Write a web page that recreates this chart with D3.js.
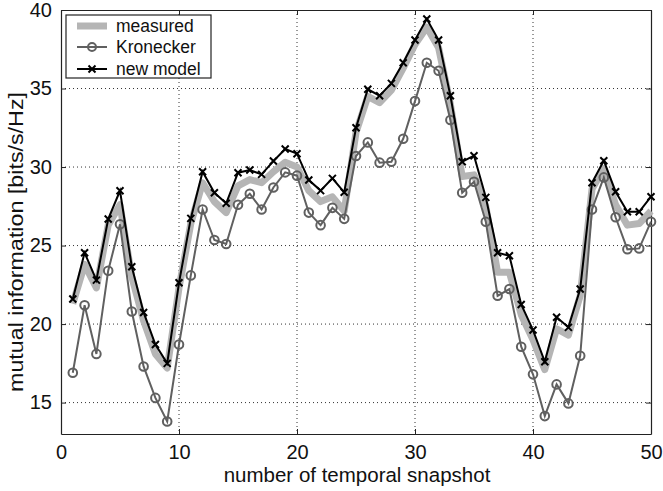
<!DOCTYPE html>
<html>
<head>
<meta charset="utf-8">
<script src="https://cdn.jsdelivr.net/npm/d3@7"></script>
<style>
  body { margin: 0; background: #fff; }
  svg text { font-family: "Liberation Sans", Arial, sans-serif; fill: #111; }
</style>
</head>
<body>
<svg id="chart"></svg>
<script>
// snapshots 1..50
var snapshots = d3.range(1, 51);

var measured = [21.3, 23.8, 22.3, 26.3, 27.6, 23.0, 20.2, 18.1, 17.2, 22.3,
  26.4, 29.0, 27.8, 27.1, 28.8, 29.2, 29.0, 29.7, 30.3, 30.0,
  28.5, 27.8, 28.1, 27.2, 32.2, 34.5, 34.1, 34.9, 36.3, 37.8,
  38.9, 37.6, 34.0, 29.4, 29.5, 27.5, 23.3, 23.3, 20.6, 19.0,
  17.1, 19.7, 19.3, 21.8, 28.6, 29.9, 27.6, 26.3, 26.4, 27.2];

var kronecker = [16.9, 21.2, 18.1, 23.4, 26.35, 20.8, 17.3, 15.3, 13.8, 18.7,
  23.1, 27.3, 25.35, 25.1, 27.6, 28.3, 27.3, 28.7, 29.66, 29.45,
  27.1, 26.3, 27.4, 26.7, 30.7, 31.57, 30.28, 30.34, 31.8, 34.2,
  36.64, 36.13, 33.0, 28.36, 29.06, 26.52, 21.8, 22.23, 18.56, 16.8,
  14.14, 16.16, 14.95, 17.98, 27.3, 29.34, 26.8, 24.76, 24.82, 26.52];

var newModel = [21.6, 24.54, 22.8, 26.69, 28.49, 23.65, 20.74, 18.7, 17.5, 22.63,
  26.73, 29.7, 28.36, 27.69, 29.64, 29.81, 29.53, 30.38, 31.15, 30.85,
  29.17, 28.5, 29.28, 28.39, 32.5, 34.95, 34.54, 35.33, 36.64, 38.09,
  39.43, 38.09, 34.54, 30.34, 30.72, 28.07, 24.54, 24.35, 21.25, 19.62,
  17.6, 20.43, 19.79, 22.23, 29.0, 30.4, 28.43, 27.15, 27.15, 28.11];

var xTicks = [0, 10, 20, 30, 40, 50];
var yTicks = [15, 20, 25, 30, 35, 40];
var legendLabels = ["measured", "Kronecker", "new model"];

var W = 663, H = 491;
var margin = { top: 10, right: 12, bottom: 57, left: 61 };
var width = W - margin.left - margin.right;
var height = H - margin.top - margin.bottom;

var svg = d3.select("#chart").attr("width", W).attr("height", H);
var g = svg.append("g").attr("transform", `translate(${margin.left},${margin.top})`);

var x = d3.scaleLinear().domain([0, 50]).range([0, width]);
var y = d3.scaleLinear().domain([13, 40]).range([height, 0]);

// grid
g.append("g").selectAll("line")
  .data(xTicks.slice(1, -1))
  .enter().append("line")
  .attr("x1", d => x(d)).attr("x2", d => x(d))
  .attr("y1", 0).attr("y2", height)
  .attr("stroke", "#333").attr("stroke-width", 1).attr("stroke-dasharray", "1,3");
g.append("g").selectAll("line")
  .data(yTicks.slice(0, -1))
  .enter().append("line")
  .attr("x1", 0).attr("x2", width)
  .attr("y1", d => y(d)).attr("y2", d => y(d))
  .attr("stroke", "#333").attr("stroke-width", 1).attr("stroke-dasharray", "1,3");

// axes, ticks inward on all four sides
var axB = g.append("g").attr("transform", `translate(0,${height})`)
  .call(d3.axisBottom(x).tickValues(xTicks).tickSizeInner(-5).tickSizeOuter(0).tickPadding(11));
var axL = g.append("g")
  .call(d3.axisLeft(y).tickValues(yTicks).tickSizeInner(-5).tickSizeOuter(0).tickPadding(9));
var axT = g.append("g")
  .call(d3.axisTop(x).tickValues(xTicks).tickSizeInner(-5).tickSizeOuter(0).tickFormat(""));
var axR = g.append("g").attr("transform", `translate(${width},0)`)
  .call(d3.axisRight(y).tickValues(yTicks).tickSizeInner(-5).tickSizeOuter(0).tickFormat(""));

[axB, axL, axT, axR].forEach(function(a) {
  a.select(".domain").attr("stroke", "#222").attr("stroke-width", 1.2);
  a.selectAll(".tick line").attr("stroke", "#222");
  a.selectAll(".tick text").style("font-size", "20px").attr("fill", "#111");
});

var line = d3.line()
  .x((d, i) => x(snapshots[i]))
  .y(d => y(d));

// measured
g.append("path").datum(measured)
  .attr("d", line).attr("fill", "none")
  .attr("stroke", "#b5b5b5").attr("stroke-width", 7)
  .attr("stroke-linejoin", "round");

// Kronecker
g.append("path").datum(kronecker)
  .attr("d", line).attr("fill", "none")
  .attr("stroke", "#606060").attr("stroke-width", 2);
g.append("g").selectAll("circle")
  .data(kronecker).enter().append("circle")
  .attr("cx", (d, i) => x(snapshots[i])).attr("cy", d => y(d))
  .attr("r", 4.3).attr("fill", "none")
  .attr("stroke", "#606060").attr("stroke-width", 2);

// new model
g.append("path").datum(newModel)
  .attr("d", line).attr("fill", "none")
  .attr("stroke", "#000").attr("stroke-width", 2);
g.append("g").selectAll("path")
  .data(newModel).enter().append("path")
  .attr("d", "M-3.5,-3.5L3.5,3.5M-3.5,3.5L3.5,-3.5")
  .attr("transform", (d, i) => `translate(${x(snapshots[i])},${y(d)})`)
  .attr("stroke", "#000").attr("stroke-width", 2);

// legend
var lg = g.append("g").attr("transform", "translate(5,5)");
lg.append("rect").attr("width", 145).attr("height", 63)
  .attr("fill", "#fff").attr("stroke", "#222").attr("stroke-width", 1.2);
var rowY = [11, 32, 54];
legendLabels.forEach(function(lab, i) {
  var row = lg.append("g").attr("transform", `translate(0,${rowY[i]})`);
  if (i === 0) {
    row.append("line").attr("x1", 11).attr("x2", 41).attr("y1", 0).attr("y2", 0)
      .attr("stroke", "#b5b5b5").attr("stroke-width", 7);
  } else if (i === 1) {
    row.append("line").attr("x1", 11).attr("x2", 41).attr("y1", 0).attr("y2", 0)
      .attr("stroke", "#606060").attr("stroke-width", 2);
    row.append("circle").attr("cx", 26).attr("cy", 0).attr("r", 4)
      .attr("fill", "none").attr("stroke", "#606060").attr("stroke-width", 2);
  } else {
    row.append("line").attr("x1", 11).attr("x2", 41).attr("y1", 0).attr("y2", 0)
      .attr("stroke", "#000").attr("stroke-width", 2);
    row.append("path").attr("d", "M-3.5,-3.5L3.5,3.5M-3.5,3.5L3.5,-3.5")
      .attr("transform", "translate(26,0)")
      .attr("stroke", "#000").attr("stroke-width", 2);
  }
  row.append("text").attr("x", 50).attr("y", 0).attr("dy", "0.35em")
    .style("font-size", "17.5px").text(lab);
});

// axis labels
svg.append("text")
  .attr("x", margin.left + width / 2 + 1).attr("y", 482)
  .attr("text-anchor", "middle").style("font-size", "20.5px")
  .text("number of temporal snapshot");
svg.append("text")
  .attr("transform", `translate(23,${margin.top + height / 2 + 20}) rotate(-90)`)
  .attr("text-anchor", "middle").style("font-size", "20.5px")
  .attr("textLength", 300).attr("lengthAdjust", "spacingAndGlyphs")
  .text("mutual information [bits/s/Hz]");
</script>
</body>
</html>
